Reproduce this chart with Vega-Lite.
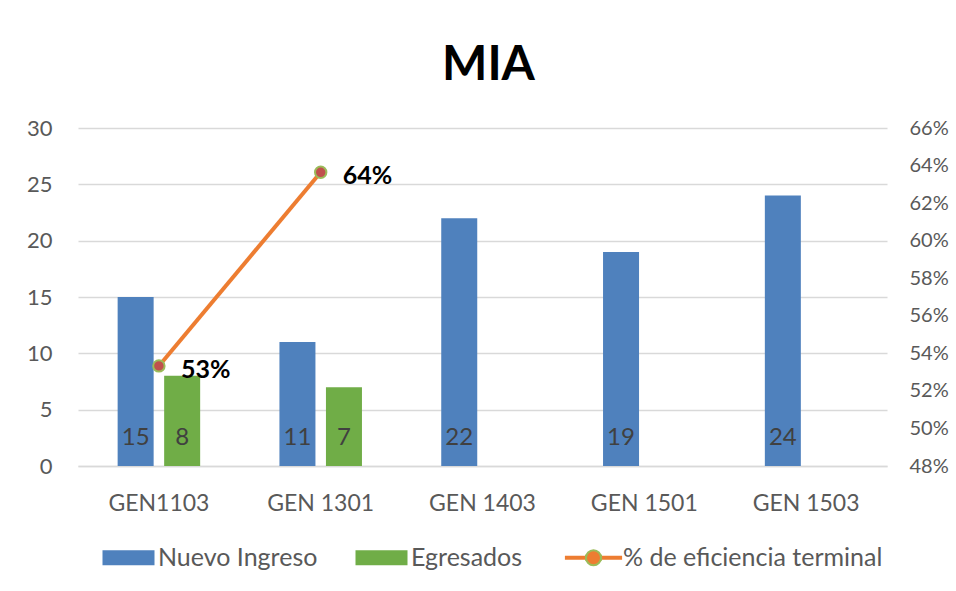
{
  "$schema": "https://vega.github.io/schema/vega-lite/v6.json",
  "width": 809,
  "height": 338,
  "autosize": {"type": "none"},
  "padding": {"left": 78, "top": 128, "right": 69, "bottom": 125},
  "background": "white",
  "config": {
    "font": "Lato",
    "view": {"stroke": null},
    "axis": {"labelFont": "Lato", "labelColor": "#595959", "labelFontSize": 21, "ticks": false, "titleFontSize": 0, "labelOverlap": false}
  },
  "title": {"text": "MIA", "fontSize": 48, "font": "Lato", "fontWeight": "bold", "color": "#000000", "anchor": "middle", "offset": 27, "dx": 6},
  "datasets": {
    "barras": [
      {"gen": "GEN1103", "serie": "Nuevo Ingreso", "valor": 15},
      {"gen": "GEN1103", "serie": "Egresados", "valor": 8},
      {"gen": "GEN 1301", "serie": "Nuevo Ingreso", "valor": 11},
      {"gen": "GEN 1301", "serie": "Egresados", "valor": 7},
      {"gen": "GEN 1403", "serie": "Nuevo Ingreso", "valor": 22},
      {"gen": "GEN 1501", "serie": "Nuevo Ingreso", "valor": 19},
      {"gen": "GEN 1503", "serie": "Nuevo Ingreso", "valor": 24}
    ],
    "eficiencia": [
      {"gen": "GEN1103", "pct": 0.5333, "etiqueta": "53%"},
      {"gen": "GEN 1301", "pct": 0.6364, "etiqueta": "64%"}
    ]
  },
  "layer": [
    {
      "data": {"name": "barras"},
      "layer": [
        {
          "mark": {"type": "bar"},
          "encoding": {
            "x": {"field": "gen", "type": "nominal", "sort": ["GEN1103", "GEN 1301", "GEN 1403", "GEN 1501", "GEN 1503"],
              "scale": {"domain": ["GEN1103", "GEN 1301", "GEN 1403", "GEN 1501", "GEN 1503"], "paddingInner": 0.49, "paddingOuter": 0.245},
              "axis": {"title": null, "labelAngle": 0, "labelPadding": 26, "domainColor": "#D9D9D9", "domainWidth": 1.5, "labelFontSize": 23}},
            "xOffset": {"field": "serie", "type": "nominal", "scale": {"domain": ["Nuevo Ingreso", "Egresados"], "paddingInner": 0.226, "paddingOuter": 0}},
            "y": {"field": "valor", "type": "quantitative", "scale": {"domain": [0, 30], "nice": false},
              "axis": {"title": null, "orient": "left", "values": [0, 5, 10, 15, 20, 25, 30], "tickCount": 7, "grid": true, "gridColor": "#D9D9D9", "gridWidth": 1.5, "domain": false, "labelPadding": 26, "labelFontSize": 22}},
            "color": {"field": "serie", "type": "nominal",
              "scale": {"domain": ["Nuevo Ingreso", "Egresados", "% de eficiencia terminal"], "range": ["#4F81BD", "#70AD47", "#ED7D31"]},
              "legend": {
                "title": null, "orient": "none", "legendX": 38, "legendY": 417, "direction": "horizontal",
                "labelFont": "Lato", "labelFontSize": 25, "labelColor": "#595959", "labelOffset": 17, "labelLimit": 500,
                "symbolSize": 2704, "columnPadding": 37, "symbolStrokeWidth": 0,
                "encode": {
                  "symbols": {
                    "update": {
                      "shape": {"signal": "datum.value === '% de eficiencia terminal' ? 'M-1.1,-0.077H-0.29V0.077H-1.1ZM0.29,-0.077H1.1V0.077H0.29ZM0.29,0A0.29,0.29 0 1 1 -0.29,0A0.29,0.29 0 1 1 0.29,0Z' : 'M-1,-0.29H1V0.29H-1Z'"},
                      "fill": {"signal": "datum.value === '% de eficiencia terminal' ? {gradient: 'linear', x1: 0, y1: 0, x2: 1, y2: 0, stops: [{offset: 0, color: '#ED7D31'}, {offset: 0.37, color: '#ED7D31'}, {offset: 0.37, color: '#C0504D'}, {offset: 0.63, color: '#C0504D'}, {offset: 0.63, color: '#ED7D31'}, {offset: 1, color: '#ED7D31'}]} : scale('color', datum.value)"},
                      "stroke": {"signal": "datum.value === '% de eficiencia terminal' ? {gradient: 'linear', x1: 0, y1: 0, x2: 1, y2: 0, stops: [{offset: 0, color: 'rgba(0,0,0,0)'}, {offset: 0.345, color: 'rgba(0,0,0,0)'}, {offset: 0.345, color: '#9BBB59'}, {offset: 0.655, color: '#9BBB59'}, {offset: 0.655, color: 'rgba(0,0,0,0)'}, {offset: 1, color: 'rgba(0,0,0,0)'}]} : 'transparent'"},
                      "strokeWidth": {"signal": "datum.value === '% de eficiencia terminal' ? 2 : 0"},
                      "opacity": {"value": 1}
                    }
                  }
                }
              }
            }
          }
        },
        {
          "mark": {"type": "text", "baseline": "bottom", "dy": -16, "fontSize": 24, "color": "#404040", "font": "Lato"},
          "encoding": {
            "x": {"field": "gen", "type": "nominal", "sort": ["GEN1103", "GEN 1301", "GEN 1403", "GEN 1501", "GEN 1503"]},
            "xOffset": {"field": "serie", "type": "nominal"},
            "y": {"datum": 0, "type": "quantitative"},
            "text": {"field": "valor", "type": "quantitative"}
          }
        }
      ]
    },
    {
      "data": {"name": "eficiencia"},
      "layer": [
        {
          "mark": {"type": "line", "color": "#ED7D31", "strokeWidth": 4},
          "encoding": {
            "x": {"field": "gen", "type": "nominal", "sort": ["GEN1103", "GEN 1301", "GEN 1403", "GEN 1501", "GEN 1503"]},
            "y": {"field": "pct", "type": "quantitative", "scale": {"domain": [0.48, 0.66], "nice": false, "zero": false},
              "axis": {"title": null, "orient": "right", "values": [0.48, 0.5, 0.52, 0.54, 0.56, 0.58, 0.6, 0.62, 0.64, 0.66], "tickCount": 10, "format": ".0%", "grid": false, "domain": false, "labelPadding": 22, "labelFontSize": 20, "labelOverlap": false}}
          }
        },
        {
          "mark": {"type": "point", "filled": true, "fill": "#C0504D", "stroke": "#9BBB59", "strokeWidth": 2, "size": 130, "opacity": 1},
          "encoding": {
            "x": {"field": "gen", "type": "nominal", "sort": ["GEN1103", "GEN 1301", "GEN 1403", "GEN 1501", "GEN 1503"]},
            "y": {"field": "pct", "type": "quantitative"}
          }
        },
        {
          "mark": {"type": "text", "align": "left", "baseline": "middle", "dx": 22, "dy": 4, "fontSize": 25, "fontWeight": "bold", "color": "#000000", "font": "Lato"},
          "encoding": {
            "x": {"field": "gen", "type": "nominal", "sort": ["GEN1103", "GEN 1301", "GEN 1403", "GEN 1501", "GEN 1503"]},
            "y": {"field": "pct", "type": "quantitative"},
            "text": {"field": "etiqueta", "type": "nominal"}
          }
        }
      ]
    }
  ],
  "resolve": {"scale": {"y": "independent"}}
}
